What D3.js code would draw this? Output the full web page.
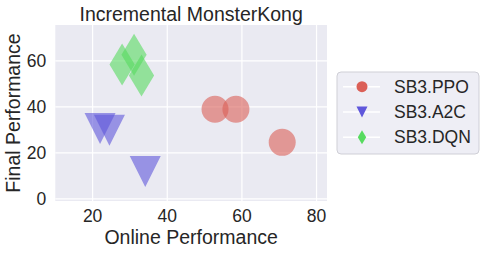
<!DOCTYPE html>
<html>
<head>
<meta charset="utf-8">
<script src="https://cdn.jsdelivr.net/npm/d3@7"></script>
<style>
  body { margin: 0; background: #fff; }
  svg text { font-family: "Liberation Sans", Arial, sans-serif; fill: #262626; }
</style>
</head>
<body>
<div class="chart"></div>
<script>
// values
const algos = ["SB3.PPO", "SB3.A2C", "SB3.DQN"];
const colors = ["#db5f57", "#5f57db", "#57db5f"];
const onlinePPO = [52.8, 58.4, 70.8];
const finalPPO = [39.0, 39.0, 24.6];
const onlineA2C = [22.0, 24.5, 34.1];
const finalA2C = [30.6, 29.8, 11.9];
const onlineDQN = [27.9, 31.1, 33.1];
const finalDQN = [58.4, 62.7, 53.7];
const xTicks = [20, 40, 60, 80];
const yTicks = [0, 20, 40, 60];

const series = [
  { name: algos[0], shape: "circle", xs: onlinePPO, ys: finalPPO },
  { name: algos[1], shape: "tri", xs: onlineA2C, ys: finalA2C },
  { name: algos[2], shape: "diamond", xs: onlineDQN, ys: finalDQN },
];

const W = 486, H = 253;
const margin = { top: 25, right: 159, bottom: 52, left: 55.3 };
const width = W - margin.left - margin.right;
const height = H - margin.top - margin.bottom;

const svg = d3.select(".chart").append("svg")
  .attr("width", W).attr("height", H);

const g = svg.append("g")
  .attr("transform", "translate(" + margin.left + "," + margin.top + ")");

const x = d3.scaleLinear().domain([10, 82.8]).range([0, width]);
const y = d3.scaleLinear().domain([-0.9, 75.6]).range([height, 0]);

g.append("rect").attr("width", width).attr("height", height).attr("fill", "#eaeaf2");

// grid
g.selectAll(".gx").data(xTicks).enter().append("line")
  .attr("x1", d => x(d)).attr("x2", d => x(d))
  .attr("y1", 0).attr("y2", height)
  .attr("stroke", "#fff").attr("stroke-width", 1.2);
g.selectAll(".gy").data(yTicks).enter().append("line")
  .attr("y1", d => y(d)).attr("y2", d => y(d))
  .attr("x1", 0).attr("x2", width)
  .attr("stroke", "#fff").attr("stroke-width", 1.2);

// tick labels
g.selectAll(".tx").data(xTicks).enter().append("text")
  .attr("x", d => x(d)).attr("y", height + 21)
  .attr("text-anchor", "middle").style("font-size", "17.5px")
  .text(d => d);
g.selectAll(".ty").data(yTicks).enter().append("text")
  .attr("x", -9).attr("y", d => y(d)).attr("dy", "0.35em")
  .attr("text-anchor", "end").style("font-size", "17.5px")
  .text(d => d);

function markerPath(shape, s) {
  // s = half size in px
  if (shape === "circle") {
    return d3.symbol().type(d3.symbolCircle).size(Math.PI * s * s)();
  }
  if (shape === "tri") {
    return "M0," + s + "L" + (-s) + "," + (-s) + "L" + s + "," + (-s) + "Z";
  }
  const w = s * 0.6;
  return "M0," + (-s) + "L" + w + ",0L0," + s + "L" + (-w) + ",0Z";
}
const bigSize = { circle: 13.5, tri: 15.5, diamond: 21 };
const smallSize = { circle: 5.5, tri: 5.5, diamond: 7 };

series.forEach((s, i) => {
  const pts = s.xs.map((v, j) => ({ x: v, y: s.ys[j] }));
  g.selectAll(".m" + i).data(pts).enter().append("path")
    .attr("d", markerPath(s.shape, bigSize[s.shape]))
    .attr("transform", d => "translate(" + x(d.x) + "," + y(d.y) + ")")
    .attr("fill", colors[i]).attr("fill-opacity", 0.6);
});

// title and axis labels
svg.append("text")
  .attr("x", margin.left + width / 2).attr("y", 20.5)
  .attr("text-anchor", "middle").style("font-size", "19.5px")
  .text("Incremental MonsterKong");
svg.append("text")
  .attr("x", margin.left + width / 2).attr("y", 244)
  .attr("text-anchor", "middle").style("font-size", "19.5px")
  .text("Online Performance");
svg.append("text")
  .attr("transform", "translate(20," + (margin.top + height / 2) + ") rotate(-90)")
  .attr("text-anchor", "middle").style("font-size", "19.5px")
  .text("Final Performance");

// legend
const legend = svg.append("g").attr("transform", "translate(337,72)");
legend.append("rect")
  .attr("width", 142).attr("height", 82).attr("rx", 4)
  .attr("fill", "#eaeaf2").attr("fill-opacity", 0.8)
  .attr("stroke", "#cfcfd6").attr("stroke-width", 1);
const legendG = legend.selectAll(".legend").data(series).enter().append("g")
  .attr("transform", (d, i) => "translate(0," + (14.7 + i * 25.3) + ")");
legendG.append("line")
  .attr("x1", 6).attr("x2", 43).attr("stroke", "#fff").attr("stroke-width", 1.5);
legendG.append("path")
  .attr("d", d => markerPath(d.shape, smallSize[d.shape]))
  .attr("transform", "translate(25,0)")
  .attr("fill", (d, i) => colors[i]);
legendG.append("text")
  .attr("x", 57).attr("dy", "0.35em").style("font-size", "17.5px")
  .text(d => d.name);
</script>
</body>
</html>
